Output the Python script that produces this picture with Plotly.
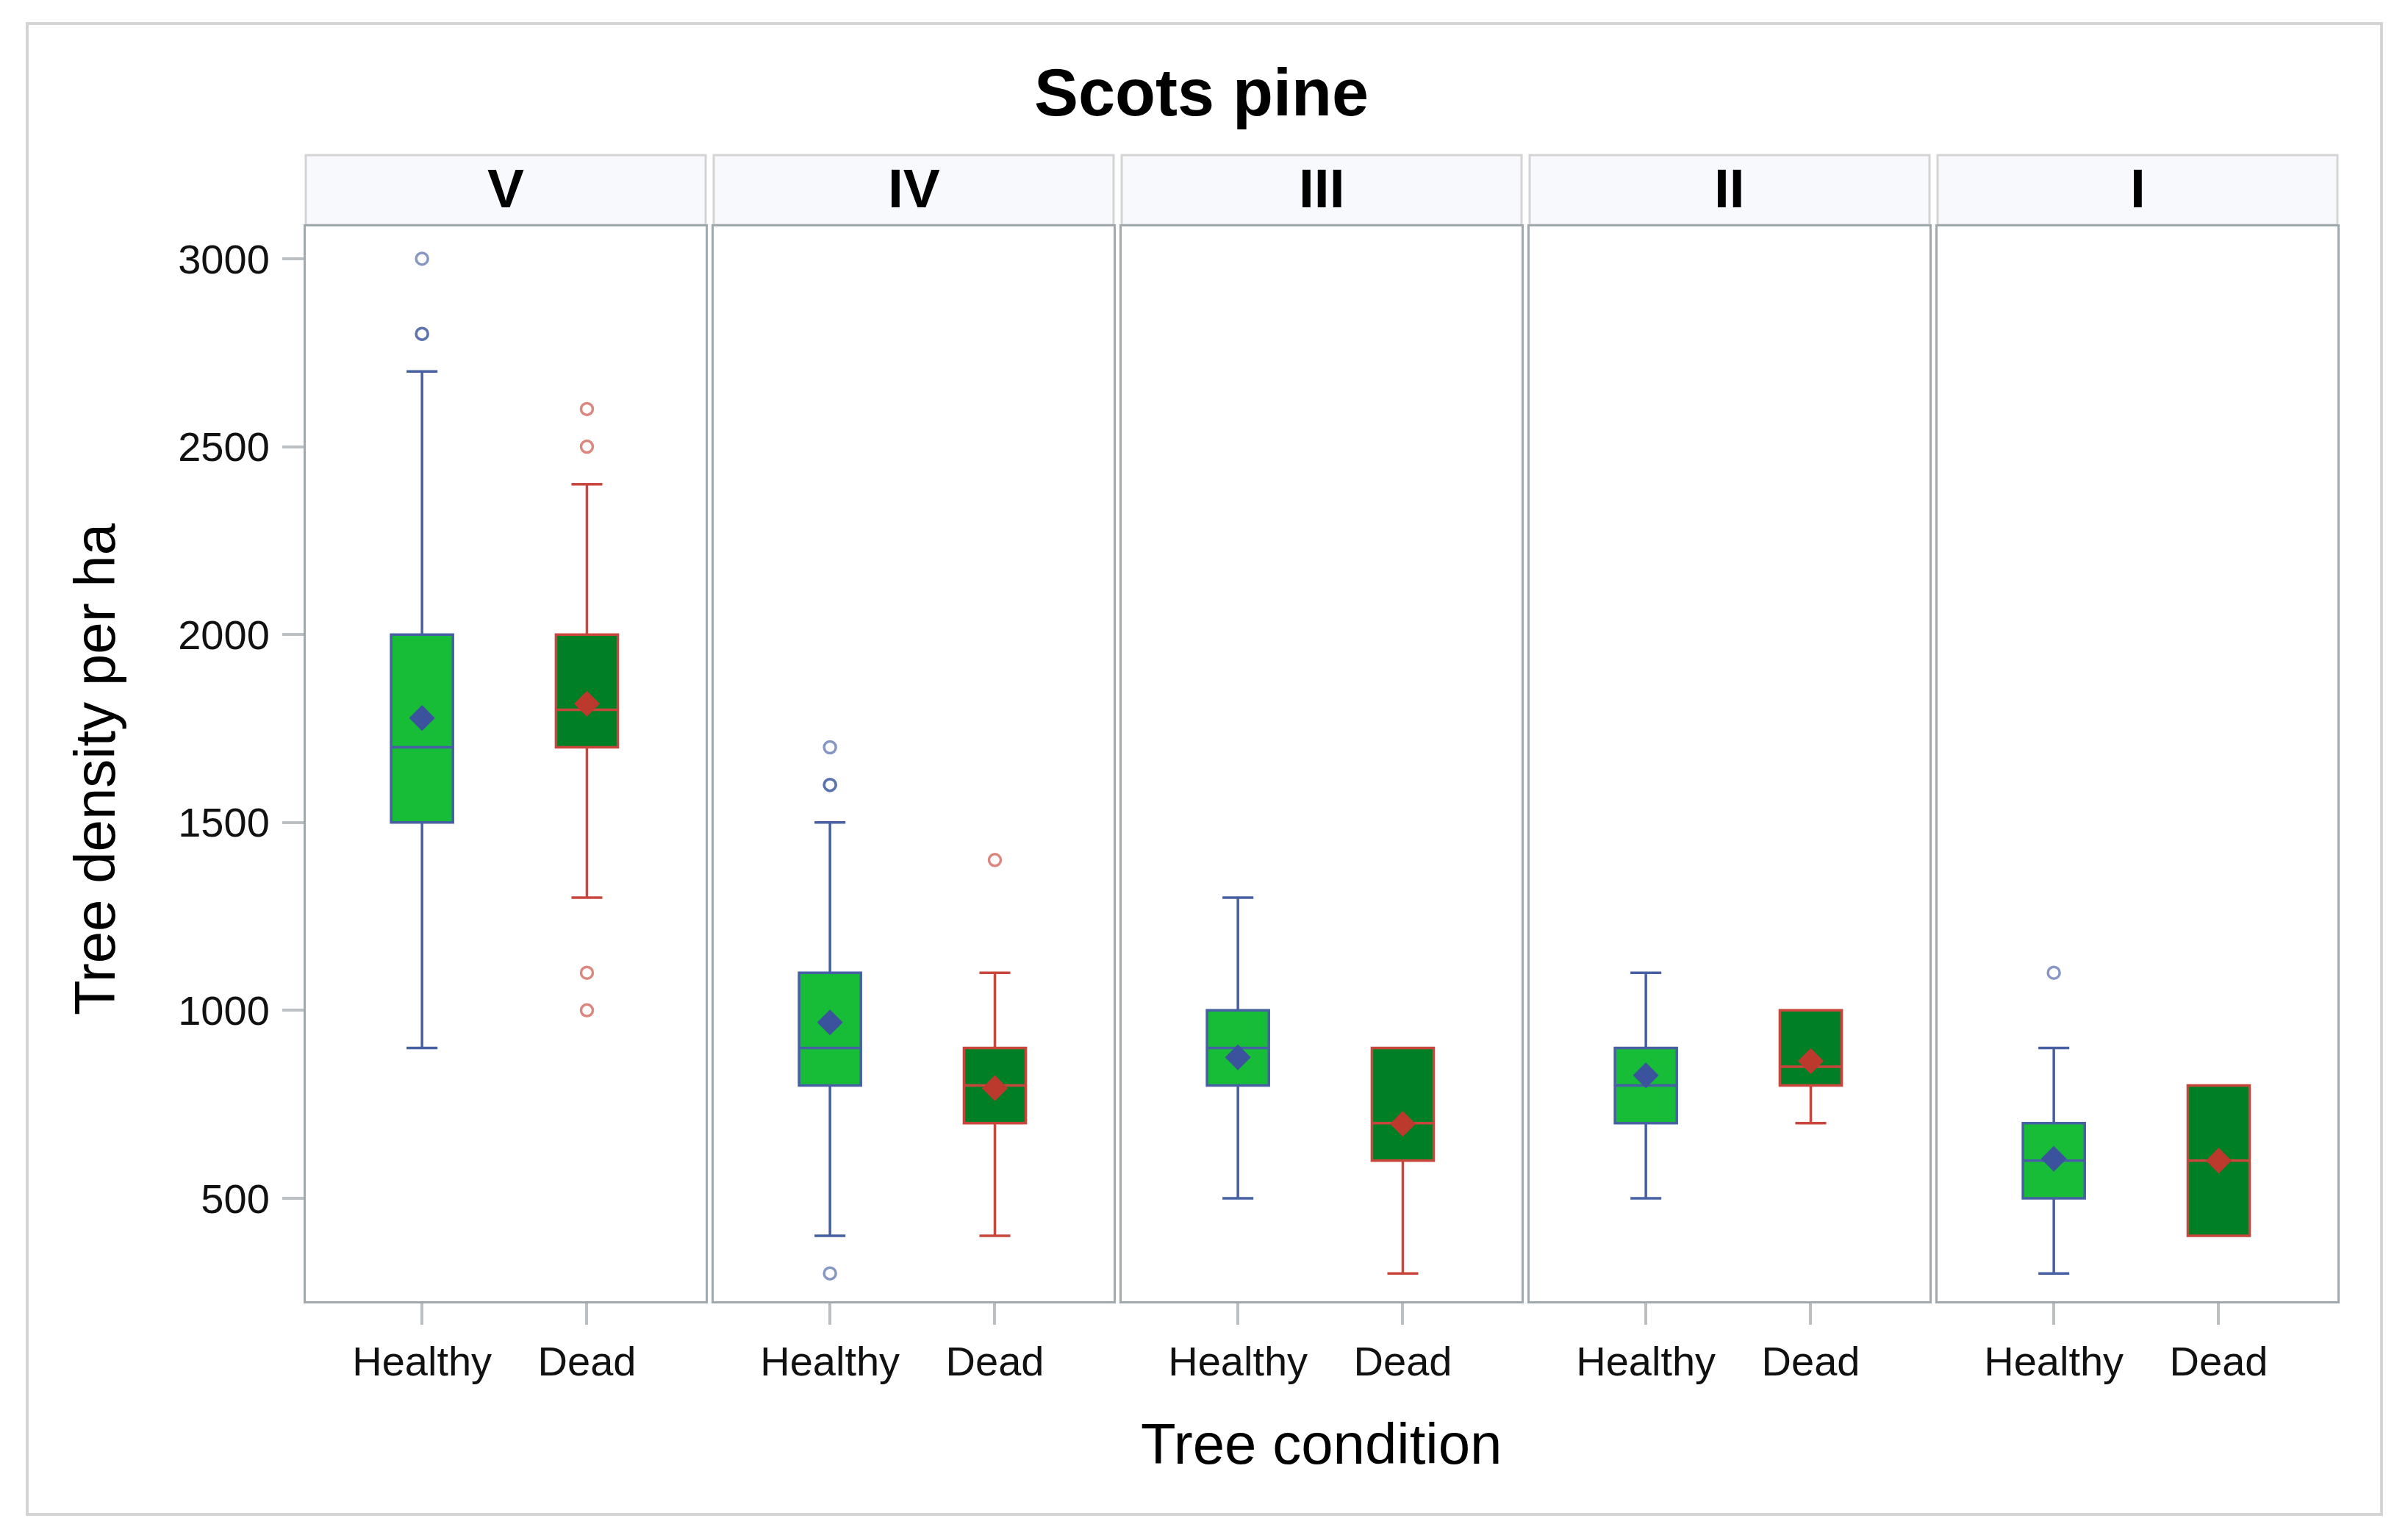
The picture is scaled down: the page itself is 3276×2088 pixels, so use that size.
import plotly.graph_objects as go

# ---------------- data ----------------
classes = ["V", "IV", "III", "II", "I"]
conditions = ["Healthy", "Dead"]

healthy_q1 = [1500, 800, 800, 700, 500]
healthy_median = [1700, 900, 900, 800, 600]
healthy_q3 = [2000, 1100, 1000, 900, 700]
healthy_low = [900, 400, 500, 500, 300]
healthy_high = [2700, 1500, 1300, 1100, 900]
healthy_mean = [1778, 968, 875, 827, 605]
healthy_outliers = [[3000, 2800, 2800], [1700, 1600, 1600, 300], [], [], [1100]]

dead_q1 = [1700, 700, 600, 800, 400]
dead_median = [1800, 800, 700, 850, 600]
dead_q3 = [2000, 900, 900, 1000, 800]
dead_low = [1300, 400, 300, 700, 400]
dead_high = [2400, 1100, 900, 1000, 800]
dead_mean = [1816, 793, 698, 865, 600]
dead_outliers = [[2600, 2500, 1100, 1000], [1400], [], [], []]

y_ticks = [500, 1000, 1500, 2000, 2500, 3000]

# ---------------- style ----------------
OFF = 8  # page body margin
W, H = 3276 - OFF, 2088 - OFF
# reference-pixel positions of the plot block
L, R, T, B = 416, 3180, 308, 1770
PW = R - L
PH = B - T
panel_gap = 11.0
panel_w = (PW - 4 * panel_gap) / 5

FONT = "Liberation Sans"
BLUE = "#4760a3"
RED = "#c8463b"
BLUE_D = "#3a539c"
RED_D = "#bb392d"
FILL_H = "#17bd36"
FILL_D = "#007f27"
PANEL_LINE = "#a0a9ad"
LIGHT = "#d4d4d4"


def px2x(px):
    return (px - L) / PW


def py2y(py):
    return (B - py) / PH


fig = go.Figure()
layout = dict(
    width=W, height=H,
    margin=dict(l=L - OFF, r=(W + OFF) - R, t=T - OFF, b=(H + OFF) - B, pad=0),
    paper_bgcolor="white", plot_bgcolor="white",
    showlegend=False,
    font=dict(family=FONT, color="black"),
    boxmode="overlay",
)

shapes = []
annotations = []

for k, cls in enumerate(classes):
    x0 = L + k * (panel_w + panel_gap)
    x1 = x0 + panel_w
    sfx = "" if k == 0 else str(k + 1)
    xa, ya = "x" + sfx, "y" + sfx

    groups = [
        ("Healthy", healthy_q1, healthy_median, healthy_q3, healthy_low, healthy_high,
         healthy_mean, healthy_outliers, FILL_H, BLUE, BLUE_D),
        ("Dead", dead_q1, dead_median, dead_q3, dead_low, dead_high,
         dead_mean, dead_outliers, FILL_D, RED, RED_D),
    ]
    for (cond, q1, med, q3, lo, hi, mn, outl, fill, lc, dc) in groups:
        fig.add_trace(go.Box(
            x=[cond], q1=[q1[k]], median=[med[k]], q3=[q3[k]],
            lowerfence=[lo[k]], upperfence=[hi[k]],
            width=0.375, whiskerwidth=0.5,
            fillcolor=fill, line=dict(color=lc, width=3.5),
            boxpoints=False, xaxis=xa, yaxis=ya,
        ))
        if outl[k]:
            fig.add_trace(go.Scatter(
                x=[cond] * len(outl[k]), y=outl[k], mode="markers",
                marker=dict(symbol="circle-open", size=16, color=lc, opacity=0.65,
                            line=dict(width=3.5, color=lc)),
                xaxis=xa, yaxis=ya,
            ))
        fig.add_trace(go.Scatter(
            x=[cond], y=[mn[k]], mode="markers",
            marker=dict(symbol="diamond", size=27, color=dc, line=dict(width=0)),
            xaxis=xa, yaxis=ya,
        ))

    layout["xaxis" + sfx] = dict(
        domain=[px2x(x0), px2x(x1)], anchor=ya,
        type="category", categoryorder="array", categoryarray=conditions,
        range=[-0.705, 1.72],
        showline=True, mirror=True, linecolor=PANEL_LINE, linewidth=3,
        ticks="outside", ticklen=29, tickwidth=4, tickcolor="#b9bfc2",
        tickfont=dict(family=FONT, size=56, color="#111111"),
        showgrid=False, zeroline=False, fixedrange=True,
        ticklabelstandoff=2,
    )
    yax = dict(
        anchor=xa, domain=[0, 1],
        range=[226, 3086],
        showline=True, mirror=True, linecolor=PANEL_LINE, linewidth=3,
        showgrid=False, zeroline=False,
    )
    if k == 0:
        yax.update(
            tickmode="array", tickvals=y_ticks, ticktext=[str(v) for v in y_ticks],
            ticks="outside", ticklen=29, tickwidth=4, tickcolor="#b9bfc2",
            tickfont=dict(family=FONT, size=56, color="#111111"),
            ticklabelstandoff=6,
        )
    else:
        yax.update(matches="y", showticklabels=False, ticks="")
    layout["yaxis" + sfx] = yax

    # strip header
    shapes.append(dict(
        type="rect", xref="paper", yref="paper",
        x0=px2x(x0), x1=px2x(x1), y0=py2y(306), y1=py2y(211),
        fillcolor="#f8f9fd", line=dict(color=LIGHT, width=3), layer="below",
    ))
    annotations.append(dict(
        text="<b>%s</b>" % cls, xref="paper", yref="paper",
        x=px2x((x0 + x1) / 2), y=py2y(256), xanchor="center", yanchor="middle",
        showarrow=False, font=dict(family=FONT, size=75, color="black"),
    ))

# outer frame
shapes.append(dict(
    type="rect", xref="paper", yref="paper",
    x0=px2x(37), x1=px2x(3240), y0=py2y(2060), y1=py2y(32),
    line=dict(color=LIGHT, width=4), fillcolor="rgba(0,0,0,0)", layer="below",
))

annotations += [
    dict(text="<b>Scots pine</b>", xref="paper", yref="paper",
         x=px2x(1634), y=py2y(126), xanchor="center", yanchor="middle",
         showarrow=False, font=dict(family=FONT, size=90, color="black")),
    dict(text="Tree condition", xref="paper", yref="paper",
         x=px2x(1797), y=py2y(1964), xanchor="center", yanchor="middle",
         showarrow=False, font=dict(family=FONT, size=78, color="black")),
    dict(text="Tree density per ha", xref="paper", yref="paper",
         x=px2x(129), y=py2y(1046), xanchor="center", yanchor="middle",
         textangle=-90, showarrow=False,
         font=dict(family=FONT, size=78, color="black")),
]

layout["shapes"] = shapes
layout["annotations"] = annotations
fig.update_layout(**layout)

fig.write_html("out.html", config={"displayModeBar": False})
